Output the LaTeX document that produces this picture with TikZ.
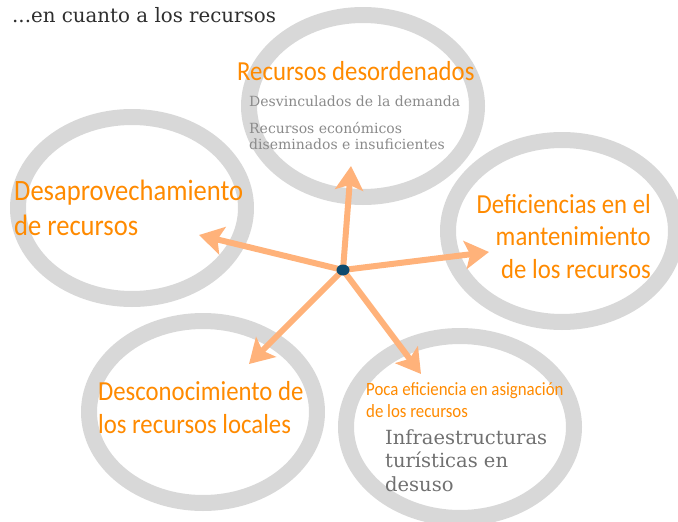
\documentclass[tikz,border=0pt]{standalone}
\usepackage{fontspec}
\usepackage{xcolor}
\usepackage{tikz}
\usetikzlibrary{arrows.meta,shapes.geometric}
\newfontfamily\headfont[FakeStretch=0.9]{Carlito}
\newfontfamily\notefont{DejaVu Serif}
\definecolor{ring}{HTML}{D8D8D8}
\definecolor{peach}{HTML}{FFB27A}
\definecolor{hot}{HTML}{FF8A00}
\definecolor{navy}{HTML}{0D4A6E}
\definecolor{slate}{HTML}{8A8A8A}
\definecolor{slatedk}{HTML}{707070}
\definecolor{ink}{HTML}{2E2E2E}
\tikzset{fig/.style={line join=round,>=Stealth},
  loop/.style={draw=ring,line width=16pt,ellipse,minimum width=228pt,minimum height=182pt,inner sep=0pt},
  spoke/.style={peach,line width=6pt,-{Stealth[length=24pt,width=28pt,inset=5pt]}},
  head/.style={hot,inner sep=0pt,anchor=base west,align=left,font=\headfont\fontsize{27.5}{32.5}\selectfont},
  note/.style={slate,inner sep=0pt,anchor=base west,align=left,font=\notefont\fontsize{14}{16}\selectfont}}

\begin{document}
\begin{tikzpicture}[fig,x=1pt,y=-1pt]
  \useasboundingbox(0,0)rectangle(678,522);
  % rings
  \node[loop](rtop)at(363,106){};\node[loop](rleft)at(132,208){};\node[loop](rright)at(562,231){};
  \node[loop](rlow)at(203,412){};\node[loop](rlowr)at(460,427){};
  % spokes
  \coordinate(hub)at(343,270);
  \coordinate(tup)at(351,166);\coordinate(tleft)at(199,235);\coordinate(tright)at(489,252);
  \coordinate(tlow)at(249,364);\coordinate(tlowr)at(421,374);
  \foreach \t in {tup,tleft,tright,tlow,tlowr}\draw[spoke](hub)--(\t);
  \node[fill=navy,ellipse,minimum width=13pt,minimum height=11pt,inner sep=0pt](hubdot)at(hub){};
  % texts (anchored at the baseline of the last line)
  \node[ink,inner sep=0pt,anchor=base west,font=\notefont\fontsize{19.8}{22}\selectfont](title)at(12,22){...en cuanto a los recursos};
  \node[head](htop)at(237,80){Recursos desordenados};
  \node[note](ntopa)at(249,106){Desvinculados de la demanda};
  \node[note](ntopb)at(249,149){Recursos económicos\\diseminados e insuficientes};
  \node[head,font=\headfont\fontsize{29.5}{35}\selectfont](hleft)at(14,235){Desaprovechamiento\\de recursos};
  \node[head,anchor=base east,align=right](hright)at(651,278){Deficiencias en el\\mantenimiento\\de los recursos};
  \node[head](hlow)at(98,433){Desconocimiento de\\los recursos locales};
  \node[head,font=\headfont\fontsize{18.7}{22}\selectfont](hlowr)at(366,417){Poca eficiencia en asignación\\de los recursos};
  \node[note,slatedk,font=\notefont\fontsize{19.5}{23.5}\selectfont](nlowr)at(385,491){Infraestructuras\\turísticas en\\desuso};
\end{tikzpicture}
\end{document}
